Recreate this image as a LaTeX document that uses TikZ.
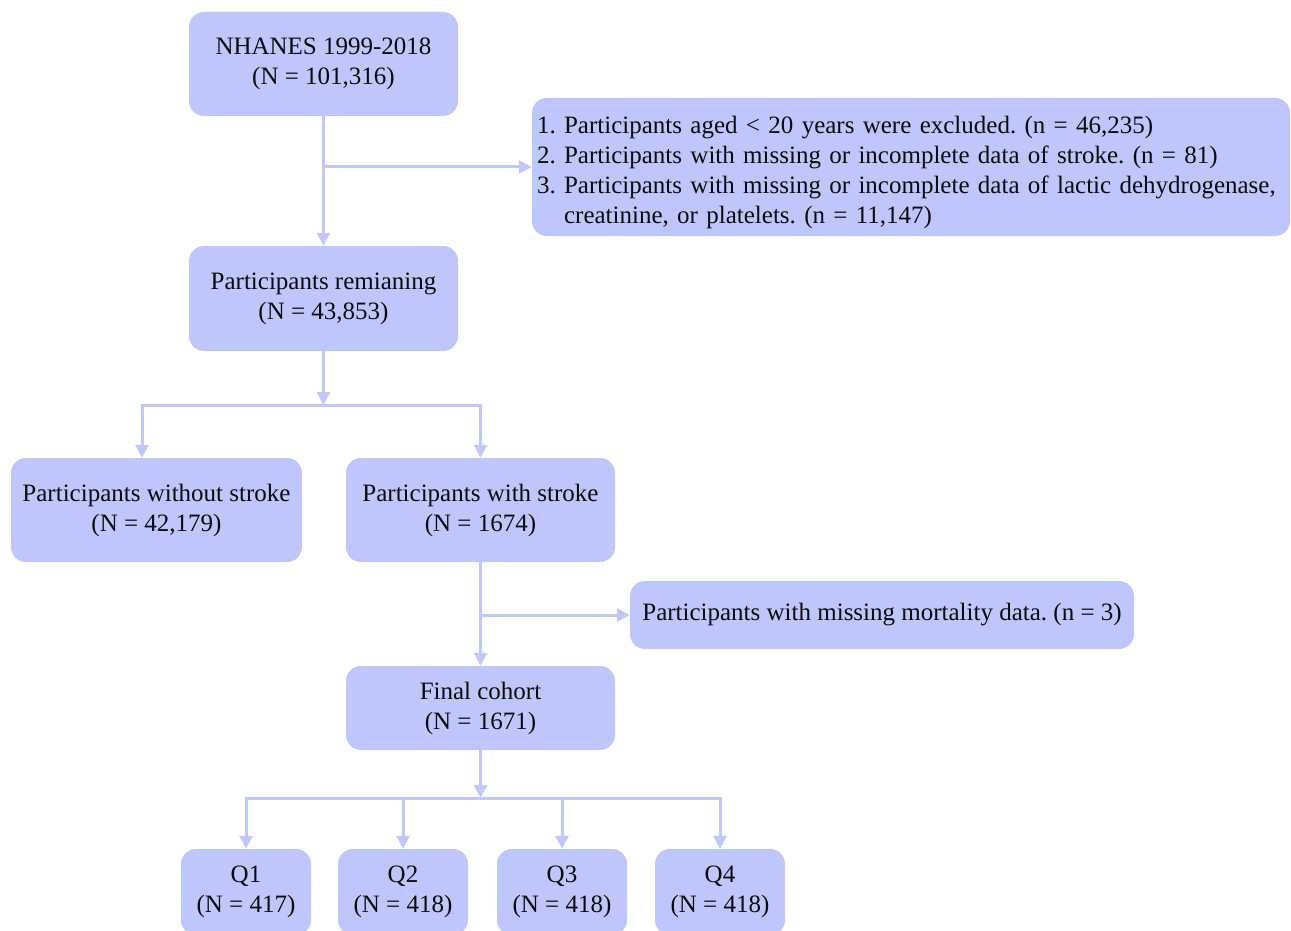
\documentclass[tikz,border=0pt]{standalone}
\usepackage{fontspec}
\setmainfont{Liberation Serif}
\usepackage{xcolor}
\usetikzlibrary{arrows.meta}
\usetikzlibrary{positioning}
\definecolor{boxblue}{RGB}{190,198,251}
\definecolor{lineblue}{RGB}{192,200,250}
\definecolor{inkgray}{RGB}{12,12,12}

\begin{document}
\frenchspacing
\begin{tikzpicture}[
    x=1pt, y=-1pt,
    box/.style={rectangle, rounded corners=15pt, fill=boxblue, draw=none, align=center,
      text=inkgray, font=\fontsize{25}{30}\selectfont, inner sep=0pt},
    flow/.style={draw=lineblue, line width=3pt, -{Triangle[length=13pt, width=13pt]}},
  ]
  \useasboundingbox (0,0) rectangle (1291,931);

  % Main column
  \node[box, minimum width=269pt, minimum height=104pt] (nhanes) at (323.5,64) {NHANES 1999-2018\\(N = 101,316)};
  \node[box, minimum width=269pt, minimum height=105pt] (remain) at (323.5,298.5) {Participants remianing\\(N = 43,853)};
  \node[box, minimum width=291pt, minimum height=104pt] (nostroke) at (156.5,510) {Participants without stroke\\(N = 42,179)};
  \node[box, minimum width=269pt, minimum height=104pt] (stroke) at (480.5,510) {Participants with stroke\\(N = 1674)};
  \node[box, minimum width=269pt, minimum height=84pt] (final) at (480.5,708) {Final cohort\\(N = 1671)};

  % Exclusions
  \node[box, text width=748pt, inner xsep=5pt, minimum height=138pt, align=left] (excl) at (911,167)
    {\rule{0pt}{28pt}1. Participants aged < 20 years were excluded. (n = 46,235)\\
     2. Participants with missing or incomplete data of stroke. (n = 81)\\
     3. Participants with missing or incomplete data of lactic dehydrogenase,\\
     \phantom{3.}\ creatinine, or platelets. (n = 11,147)};
  \node[box, minimum width=504pt, minimum height=68pt] (mort) at (882,615) {Participants with missing mortality data. (n = 3)};

  % Quartiles
  \node[box, minimum width=130pt, minimum height=86pt] (q1) at (246,892) {Q1\\(N = 417)};
  \node[box, minimum width=130pt, minimum height=86pt] (q2) at (403,892) {Q2\\(N = 418)};
  \node[box, minimum width=130pt, minimum height=86pt] (q3) at (562,892) {Q3\\(N = 418)};
  \node[box, minimum width=130pt, minimum height=86pt] (q4) at (720,892) {Q4\\(N = 418)};

  % Split points
  \coordinate (exclsplit) at (323.5,167);
  \coordinate (strokesplit) at (323.5,405);
  \coordinate (mortsplit) at (480.5,615);
  \coordinate (qsplit) at (480.5,798);

  % Connectors
  \draw[flow] (nhanes) -- (remain);
  \draw[flow] (exclsplit) -- (excl);
  \draw[flow] (remain) -- (strokesplit);
  \draw[flow] (strokesplit) -| ([xshift=-14.5pt]nostroke.north);
  \draw[flow] (strokesplit) -| (stroke.north);
  \draw[flow] (stroke) -- (final);
  \draw[flow] (mortsplit) -- (mort);
  \draw[flow] (final) -- (qsplit);
  \foreach \q in {q1,q2,q3,q4}
    \draw[flow] (qsplit) -| (\q.north);

\end{tikzpicture}
\end{document}
